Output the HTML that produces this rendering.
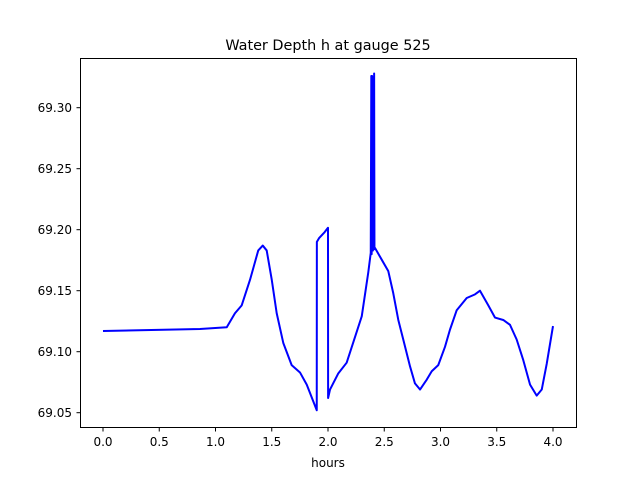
<!DOCTYPE html>
<html><head><meta charset="utf-8"><style>
body{margin:0;background:#fff;}
svg text{font-family:"DejaVu Sans","Liberation Sans",sans-serif;fill:#000;}
</style></head><body>
<svg id="chart" width="640" height="480" xmlns="http://www.w3.org/2000/svg">
<rect width="640" height="480" fill="#fff"/>
<text x="328" y="50" font-size="14.4" text-anchor="middle">Water Depth h at gauge 525</text>
<g id="plot"></g>
<rect x="80.5" y="58.5" width="496" height="369" fill="none" stroke="#000" stroke-width="1"/>
<g id="xticks"></g><g id="yticks"></g>
<text x="328" y="467" font-size="12" text-anchor="middle">hours</text>
</svg>
<script>
const hours = [0,0.862,1.100,1.173,1.233,1.307,1.380,1.420,1.455,1.500,1.544,1.603,1.677,1.751,1.811,1.900,1.901,1.92,1.95,1.97,2.0,2.001,2.018,2.09,2.166,2.3,2.358,2.38,2.385,2.388,2.392,2.40,2.41,2.413,2.418,2.536,2.580,2.625,2.669,2.729,2.773,2.818,2.877,2.922,2.980,3.040,3.084,3.144,3.233,3.307,3.351,3.425,3.484,3.558,3.618,3.677,3.736,3.796,3.855,3.900,3.944,4.0];
const depth = [69.117,69.1186,69.120,69.1315,69.138,69.159,69.183,69.187,69.183,69.159,69.1315,69.107,69.089,69.083,69.073,69.052,69.19,69.193,69.196,69.198,69.2016,69.062,69.069,69.082,69.091,69.129,69.165,69.181,69.326,69.18,69.326,69.183,69.328,69.184,69.185,69.166,69.148,69.126,69.110,69.088,69.074,69.069,69.077,69.084,69.089,69.104,69.118,69.134,69.144,69.147,69.150,69.138,69.128,69.126,69.122,69.110,69.093,69.073,69.064,69.069,69.090,69.121];
const xTickLabels = ["0.0","0.5","1.0","1.5","2.0","2.5","3.0","3.5","4.0"];
const xTickValues = [0,0.5,1,1.5,2,2.5,3,3.5,4];
const yTickValues = [69.05,69.10,69.15,69.20,69.25,69.30];
const yTickLabels = ["69.05","69.10","69.15","69.20","69.25","69.30"];
function xs(t){return 103+t*112.5;}
function ys(v){return 412.7-(v-69.05)*1220;}
const NS="http://www.w3.org/2000/svg";
const plot=document.getElementById('plot');
const line=document.createElementNS(NS,'polyline');


line.setAttribute('points',hours.map((t,i)=>xs(t).toFixed(2)+','+ys(depth[i]).toFixed(2)).join(' '));
line.setAttribute('fill','none');line.setAttribute('stroke','#0000ff');line.setAttribute('stroke-width','2');line.setAttribute('stroke-linejoin','round');
plot.appendChild(line);
const xg=document.getElementById('xticks');
xTickValues.forEach((v,i)=>{
 const x=xs(v);
 const l=document.createElementNS(NS,'line');
 
 
 l.setAttribute('x1',x);l.setAttribute('x2',x);l.setAttribute('y1',428);l.setAttribute('y2',431.5);l.setAttribute('stroke','#000');
 xg.appendChild(l);
 const t=document.createElementNS(NS,'text');
 
 
 t.setAttribute('x',x);t.setAttribute('y',446);t.setAttribute('font-size','12');t.setAttribute('text-anchor','middle');
 t.textContent=xTickLabels[i];xg.appendChild(t);
});
const yg=document.getElementById('yticks');
yTickValues.forEach((v,i)=>{
 const y=ys(v);
 const l=document.createElementNS(NS,'line');
 
 
 l.setAttribute('x1',76.5);l.setAttribute('x2',80);l.setAttribute('y1',y);l.setAttribute('y2',y);l.setAttribute('stroke','#000');
 yg.appendChild(l);
 const t=document.createElementNS(NS,'text');
 
 
 t.setAttribute('x',72);t.setAttribute('y',y+4.5);t.setAttribute('font-size','12');t.setAttribute('text-anchor','end');
 t.textContent=yTickLabels[i];yg.appendChild(t);
});
</script>
</body></html>
